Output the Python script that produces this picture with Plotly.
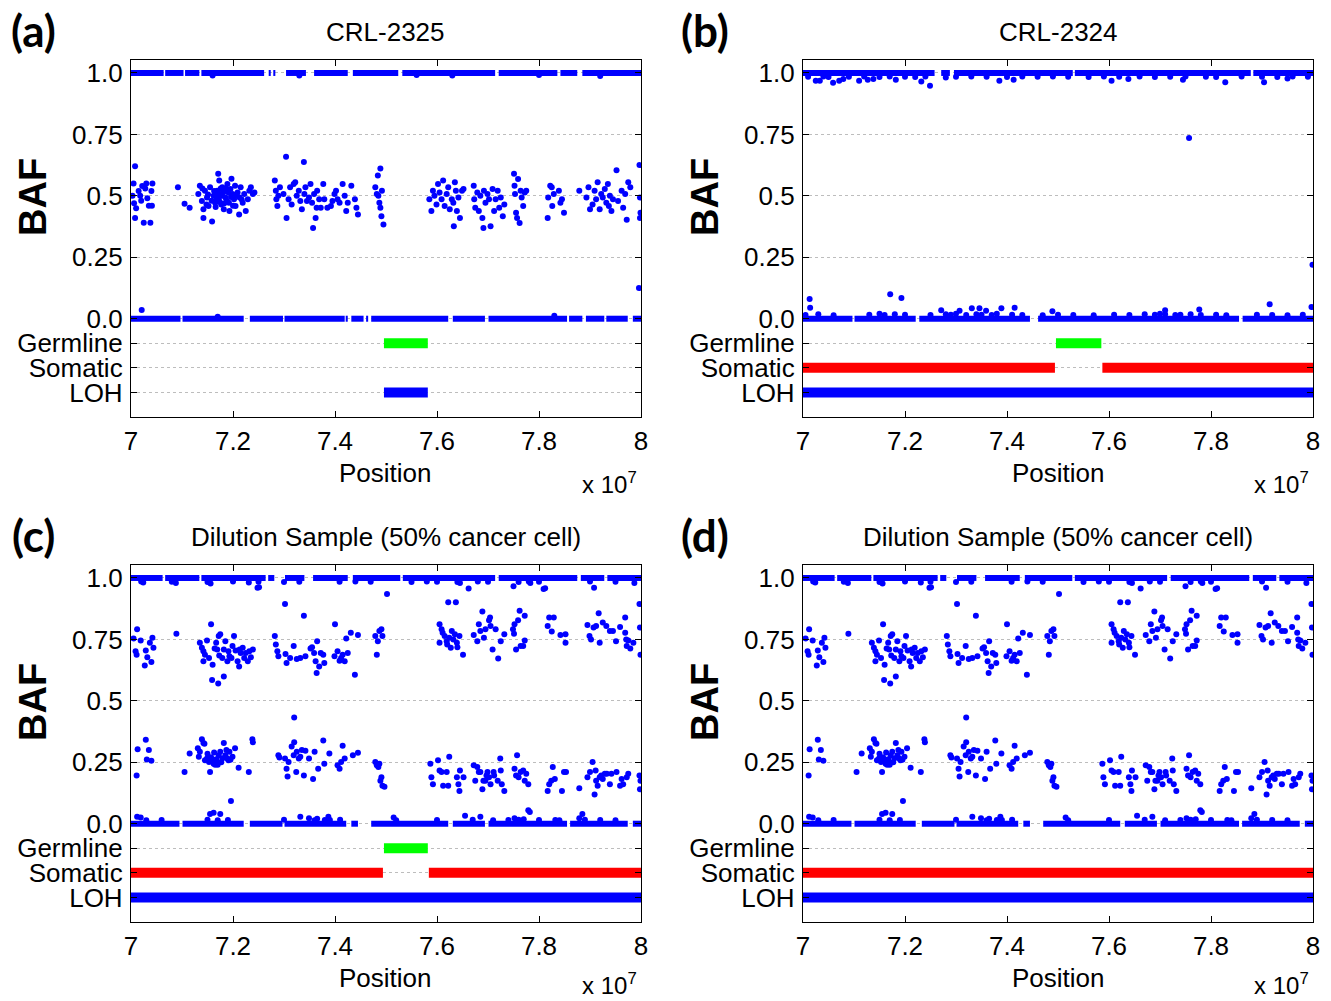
import plotly.graph_objects as go

W, H = 1331, 1001
BLUE = "rgb(0,0,255)"
GREEN = "rgb(0,255,0)"
RED = "rgb(255,0,0)"

# ---------------- axis ticks ----------------
X_TICKS = [7.0, 7.2, 7.4, 7.6, 7.8, 8.0]
X_TICKTEXT = ["7", "7.2", "7.4", "7.6", "7.8", "8"]
Y_TICKS = [-0.3, -0.2, -0.1, 0.0, 0.25, 0.5, 0.75, 1.0]
Y_TICKTEXT = ["LOH", "Somatic", "Germline", "0.0", "0.25", "0.5", "0.75", "1.0"]
ROW_GERMLINE, ROW_SOMATIC, ROW_LOH = -0.1, -0.2, -0.3

PANEL_LABELS = ["(a)", "(b)", "(c)", "(d)"]
PANEL_TITLES = ["CRL-2325", "CRL-2324",
                "Dilution Sample (50% cancer cell)", "Dilution Sample (50% cancer cell)"]

# ---------------- panel (a) CRL-2325 ----------------
A_TOP_SEG = [(7.0, 7.064), (7.067, 7.103), (7.106, 7.134), (7.138, 7.261), (7.270, 7.274),
             (7.279, 7.283), (7.304, 7.343), (7.359, 7.425), (7.435, 7.524), (7.532, 7.714),
             (7.721, 7.836), (7.842, 7.875), (7.885, 8.0)]
A_BOT_SEG = [(7.0, 7.097), (7.101, 7.221), (7.233, 7.298), (7.301, 7.419), (7.421, 7.425),
             (7.432, 7.456), (7.461, 7.465), (7.471, 7.622), (7.631, 7.694), (7.701, 7.855),
             (7.859, 7.885), (7.892, 7.928), (7.932, 7.974), (7.984, 8.0)]
A_HET_X = [7.003, 7.005, 7.008, 7.006, 7.010, 7.008, 7.015, 7.018, 7.020, 7.025, 7.028, 7.030,
           7.032, 7.035, 7.038, 7.040, 7.042, 7.041, 7.022, 7.092,
           7.105, 7.115, 7.132, 7.135, 7.139, 7.142, 7.142, 7.145, 7.149, 7.152, 7.155, 7.159,
           7.162, 7.165, 7.169, 7.171, 7.172, 7.173, 7.175, 7.177, 7.179, 7.182, 7.185, 7.189,
           7.191, 7.192, 7.193, 7.195, 7.199, 7.202, 7.204, 7.205, 7.209, 7.212, 7.213, 7.215,
           7.219, 7.222, 7.225, 7.229, 7.232, 7.235, 7.239, 7.242,
           7.158, 7.163, 7.166, 7.168, 7.174, 7.176, 7.178, 7.181, 7.183, 7.186, 7.188, 7.196,
           7.200, 7.207, 7.217, 7.148, 7.151, 7.140, 7.170, 7.197,
           7.282, 7.284, 7.285, 7.287, 7.289, 7.292, 7.299, 7.304, 7.305, 7.309, 7.312, 7.315,
           7.319, 7.322, 7.325, 7.329, 7.332, 7.335, 7.339, 7.340, 7.342, 7.345, 7.349, 7.352,
           7.355, 7.357, 7.359, 7.362, 7.364, 7.365, 7.369, 7.372, 7.377, 7.379, 7.385, 7.392,
           7.395, 7.399, 7.402, 7.405, 7.409, 7.415, 7.419, 7.422, 7.425, 7.432, 7.439, 7.442,
           7.445,
           7.479, 7.482, 7.484, 7.485, 7.487, 7.489, 7.489, 7.491, 7.492, 7.495,
           7.585, 7.589, 7.592, 7.595, 7.599, 7.602, 7.605, 7.609, 7.612, 7.615, 7.619, 7.622,
           7.625, 7.629, 7.632, 7.633, 7.635, 7.637, 7.639, 7.642, 7.645, 7.649, 7.652,
           7.672, 7.673, 7.675, 7.679, 7.682, 7.685, 7.689, 7.691, 7.692, 7.695, 7.699, 7.702,
           7.705, 7.709, 7.712, 7.715, 7.719, 7.722, 7.725, 7.729, 7.732,
           7.751, 7.752, 7.753, 7.755, 7.757, 7.759, 7.762, 7.764, 7.766, 7.769, 7.772, 7.775,
           7.817, 7.818, 7.822, 7.825, 7.826, 7.829, 7.839, 7.842, 7.845, 7.849, 7.879,
           7.893, 7.897, 7.900, 7.905, 7.909, 7.912, 7.915, 7.919, 7.922, 7.925, 7.929, 7.932,
           7.935, 7.937, 7.939, 7.942, 7.945, 7.952, 7.955, 7.962, 7.965, 7.969, 7.972, 7.975,
           7.979, 7.997, 7.998, 7.999, 7.998]
A_HET_Y = [0.50, 0.55, 0.62, 0.47, 0.45, 0.41, 0.52, 0.50, 0.48, 0.39, 0.53, 0.55,
           0.49, 0.46, 0.39, 0.52, 0.55, 0.46, 0.54, 0.535,
           0.468, 0.452, 0.507, 0.541, 0.479, 0.445, 0.410, 0.521, 0.493, 0.459, 0.535, 0.396,
           0.500, 0.472, 0.521, 0.590, 0.486, 0.562, 0.507, 0.465, 0.535, 0.445, 0.493, 0.548,
           0.514, 0.472, 0.438, 0.528, 0.507, 0.486, 0.541, 0.459, 0.514, 0.424, 0.493, 0.535,
           0.472, 0.507, 0.438, 0.486, 0.521, 0.535, 0.507, 0.514,
           0.480, 0.520, 0.455, 0.490, 0.475, 0.530, 0.500, 0.515, 0.470, 0.530, 0.480, 0.495,
           0.460, 0.500, 0.485, 0.465, 0.505, 0.530, 0.510, 0.570,
           0.562, 0.521, 0.486, 0.459, 0.500, 0.535, 0.507, 0.659, 0.410, 0.486, 0.535, 0.465,
           0.548, 0.555, 0.500, 0.521, 0.479, 0.445, 0.638, 0.507, 0.535, 0.479, 0.493, 0.548,
           0.472, 0.369, 0.507, 0.410, 0.452, 0.521, 0.486, 0.452, 0.548, 0.486, 0.452, 0.459,
           0.479, 0.507, 0.521, 0.486, 0.472, 0.548, 0.500, 0.438, 0.472, 0.541, 0.486, 0.452,
           0.424,
           0.535, 0.507, 0.583, 0.500, 0.472, 0.611, 0.452, 0.417, 0.521, 0.383,
           0.486, 0.438, 0.521, 0.500, 0.465, 0.548, 0.514, 0.486, 0.562, 0.459, 0.507, 0.535,
           0.445, 0.486, 0.472, 0.376, 0.555, 0.521, 0.438, 0.493, 0.410, 0.521, 0.528,
           0.541, 0.486, 0.452, 0.514, 0.438, 0.500, 0.410, 0.369, 0.521, 0.472, 0.507, 0.486,
           0.376, 0.528, 0.438, 0.486, 0.521, 0.452, 0.493, 0.417, 0.465,
           0.590, 0.541, 0.507, 0.431, 0.410, 0.569, 0.389, 0.521, 0.493, 0.459, 0.514, 0.521,
           0.410, 0.493, 0.541, 0.535, 0.459, 0.507, 0.521, 0.472, 0.486, 0.431, 0.521,
           0.493, 0.535, 0.445, 0.465, 0.521, 0.486, 0.555, 0.445, 0.507, 0.493, 0.528, 0.472,
           0.548, 0.459, 0.500, 0.438, 0.486, 0.604, 0.479, 0.521, 0.452, 0.507, 0.403, 0.555,
           0.535, 0.625, 0.493, 0.431, 0.410]
A_OUT_X = [7.021, 7.996, 7.830, 7.170, 7.160, 7.330, 7.560, 7.630, 7.800, 7.920]
A_OUT_Y = [0.035, 0.125, 0.012, 0.008, 0.990, 0.990, 0.992, 0.990, 0.992, 0.988]
A_GERM_SEG = [(7.496, 7.582)]
A_SOM_SEG = []
A_LOH_SEG = [(7.496, 7.582)]

# ---------------- panel (b) CRL-2324 ----------------
B_TOP_SEG = [(7.0, 7.258), (7.271, 7.288), (7.296, 7.529), (7.533, 7.878), (7.883, 8.0)]
B_BOT_SEG = [(7.0, 7.097), (7.101, 7.221), (7.228, 7.445), (7.461, 7.855), (7.862, 8.0)]
B_OUT_X = [7.025, 7.033, 7.059, 7.071, 7.079, 7.110, 7.127, 7.138, 7.182, 7.232, 7.249, 7.280,
           7.385, 7.413, 7.605, 7.638, 7.745, 7.828, 7.904, 7.950,
           7.757, 7.999,
           7.013, 7.014, 7.171, 7.193, 7.271, 7.307, 7.331, 7.346, 7.359, 7.389, 7.415, 7.489,
           7.710, 7.777, 7.915, 7.997,
           7.010, 7.040, 7.050, 7.090, 7.120, 7.150, 7.170, 7.200, 7.220, 7.240, 7.300, 7.330,
           7.360, 7.400, 7.430, 7.460, 7.490, 7.520, 7.560, 7.590, 7.620, 7.660, 7.690, 7.720,
           7.750, 7.790, 7.810, 7.860, 7.900, 7.930, 7.960, 7.990,
           7.005, 7.030, 7.060, 7.130, 7.150, 7.160, 7.180, 7.200, 7.250, 7.280, 7.290, 7.300,
           7.320, 7.340, 7.350, 7.370, 7.380, 7.410, 7.430, 7.470, 7.500, 7.530, 7.570, 7.610,
           7.640, 7.670, 7.690, 7.700, 7.710, 7.730, 7.740, 7.760, 7.780, 7.810, 7.830, 7.890,
           7.920, 7.950, 7.980]
B_OUT_Y = [0.968, 0.968, 0.960, 0.968, 0.975, 0.968, 0.972, 0.975, 0.972, 0.965, 0.948, 0.982,
           0.968, 0.972, 0.968, 0.975, 0.972, 0.962, 0.962, 0.978,
           0.735, 0.220,
           0.080, 0.045, 0.100, 0.084, 0.034, 0.032, 0.043, 0.043, 0.032, 0.043, 0.045, 0.030,
           0.034, 0.037, 0.059, 0.048,
           0.985, 0.986, 0.984, 0.985, 0.986, 0.984, 0.986, 0.985, 0.984, 0.986, 0.985, 0.986,
           0.985, 0.984, 0.986, 0.985, 0.986, 0.985, 0.984, 0.986, 0.985, 0.986, 0.984, 0.985,
           0.986, 0.985, 0.984, 0.986, 0.985, 0.984, 0.986, 0.985,
           0.015, 0.018, 0.014, 0.016, 0.020, 0.015, 0.018, 0.016, 0.015, 0.018, 0.016, 0.020,
           0.015, 0.018, 0.016, 0.015, 0.020, 0.016, 0.015, 0.014, 0.016, 0.015, 0.014, 0.016,
           0.015, 0.018, 0.016, 0.020, 0.018, 0.015, 0.016, 0.018, 0.015, 0.016, 0.014, 0.016,
           0.015, 0.014, 0.016]
B_GERM_SEG = [(7.496, 7.585)]
B_SOM_SEG = [(7.0, 7.494), (7.587, 8.0)]
B_LOH_SEG = [(7.0, 8.0)]

# ---------------- panels (c) and (d) dilution sample ----------------
CD_TOP_SEG = [(7.0, 7.062), (7.067, 7.134), (7.138, 7.264), (7.269, 7.281), (7.302, 7.340),
              (7.357, 7.425), (7.435, 7.528), (7.533, 7.714), (7.721, 7.875), (7.882, 7.928),
              (7.934, 8.0)]
CD_BOT_SEG = [(7.0, 7.095), (7.101, 7.221), (7.233, 7.297), (7.301, 7.422), (7.432, 7.445),
              (7.471, 7.622), (7.631, 7.694), (7.701, 7.855), (7.861, 7.974), (7.984, 8.0)]
CD_UP_X = [7.005, 7.012, 7.009, 7.011, 7.019, 7.027, 7.029, 7.032, 7.037, 7.040, 7.042, 7.044,
           7.089,
           7.135, 7.139, 7.142, 7.142, 7.145, 7.149, 7.153, 7.157, 7.159, 7.160, 7.164, 7.167,
           7.169, 7.171, 7.172, 7.173, 7.175, 7.179, 7.182, 7.182, 7.185, 7.189, 7.191, 7.193,
           7.197, 7.199, 7.202, 7.205, 7.209, 7.212, 7.213, 7.215, 7.219, 7.222, 7.225, 7.229,
           7.232, 7.235, 7.239,
           7.282, 7.284, 7.287, 7.289, 7.302, 7.303, 7.305, 7.312, 7.319, 7.325, 7.332, 7.339,
           7.342, 7.352, 7.355, 7.359, 7.362, 7.364, 7.365, 7.369, 7.372, 7.377, 7.379, 7.399,
           7.400, 7.405, 7.409, 7.412, 7.415, 7.419, 7.422, 7.425, 7.431, 7.439, 7.445,
           7.479, 7.482, 7.484, 7.487, 7.491, 7.493,
           7.605, 7.605, 7.609, 7.611, 7.615, 7.619, 7.620, 7.622, 7.624, 7.627, 7.629, 7.632,
           7.635, 7.637, 7.639, 7.640, 7.644, 7.651,
           7.672, 7.679, 7.682, 7.685, 7.689, 7.692, 7.695, 7.702, 7.704, 7.705, 7.709, 7.715,
           7.720, 7.725, 7.732,
           7.749, 7.751, 7.752, 7.755, 7.759, 7.762, 7.764, 7.769, 7.772, 7.772,
           7.817, 7.820, 7.825, 7.829, 7.842, 7.852, 7.852,
           7.895, 7.899, 7.902, 7.907, 7.912, 7.917, 7.919, 7.925, 7.932, 7.939, 7.945, 7.951,
           7.959, 7.969, 7.969, 7.971, 7.972, 7.975, 7.979, 7.985, 7.997, 7.998, 7.999]
CD_UP_Y = [0.754, 0.791, 0.702, 0.688, 0.746, 0.644, 0.705, 0.677, 0.736, 0.658, 0.757, 0.716,
           0.773,
           0.736, 0.716, 0.702, 0.661, 0.688, 0.746, 0.674, 0.812, 0.585, 0.647, 0.713, 0.736,
           0.709, 0.571, 0.764, 0.685, 0.771, 0.674, 0.599, 0.709, 0.743, 0.661, 0.702, 0.681,
           0.674, 0.723, 0.764, 0.705, 0.661, 0.640, 0.709, 0.695, 0.716, 0.674, 0.695, 0.661,
           0.702, 0.677, 0.709,
           0.764, 0.729, 0.702, 0.681, 0.894, 0.691, 0.654, 0.674, 0.723, 0.670, 0.674, 0.846,
           0.681, 0.713, 0.718, 0.695, 0.661, 0.613, 0.743, 0.640, 0.695, 0.688, 0.654, 0.681,
           0.812, 0.702, 0.663, 0.674, 0.688, 0.661, 0.754, 0.695, 0.777, 0.606, 0.768,
           0.764, 0.688, 0.743, 0.784, 0.791, 0.764,
           0.812, 0.736, 0.791, 0.777, 0.764, 0.743, 0.729, 0.901, 0.757, 0.716, 0.784, 0.750,
           0.771, 0.901, 0.736, 0.718, 0.764, 0.688,
           0.768, 0.743, 0.812, 0.784, 0.864, 0.757, 0.791, 0.828, 0.839, 0.805, 0.709, 0.791,
           0.672, 0.743, 0.771,
           0.791, 0.773, 0.812, 0.709, 0.828, 0.867, 0.723, 0.723, 0.846, 0.746,
           0.805, 0.839, 0.782, 0.839, 0.768, 0.736, 0.771,
           0.809, 0.764, 0.750, 0.798, 0.805, 0.856, 0.736, 0.819, 0.805, 0.784, 0.784, 0.743,
           0.801, 0.839, 0.777, 0.750, 0.723, 0.746, 0.713, 0.736, 0.894, 0.798, 0.688]
CD_LO_X = [7.011, 7.013, 7.029, 7.031, 7.035, 7.040,
           7.105, 7.115, 7.131, 7.133, 7.135, 7.139, 7.142, 7.144, 7.145, 7.149, 7.153, 7.155,
           7.159, 7.162, 7.165, 7.169, 7.172, 7.175, 7.179, 7.182, 7.185, 7.189, 7.191, 7.193,
           7.196, 7.199, 7.204, 7.211, 7.231, 7.239, 7.238,
           7.150, 7.157, 7.163, 7.167, 7.170, 7.177, 7.187, 7.195,
           7.289, 7.291, 7.302, 7.305, 7.307, 7.309, 7.315, 7.319, 7.320, 7.320, 7.324, 7.325,
           7.329, 7.332, 7.335, 7.339, 7.342, 7.349, 7.357, 7.360, 7.367, 7.377, 7.379, 7.389,
           7.405, 7.409, 7.412, 7.415, 7.419, 7.435, 7.445,
           7.479, 7.482, 7.485, 7.487, 7.489, 7.491, 7.493, 7.497,
           7.587, 7.589, 7.592, 7.602, 7.605, 7.609, 7.612, 7.619, 7.622, 7.624, 7.639, 7.642,
           7.644, 7.645, 7.652,
           7.672, 7.675, 7.679, 7.682, 7.685, 7.689, 7.691, 7.695, 7.697, 7.699, 7.702, 7.705,
           7.711, 7.712, 7.719, 7.724, 7.725, 7.727, 7.732,
           7.752, 7.755, 7.757, 7.760, 7.764, 7.769, 7.772, 7.775, 7.779,
           7.817, 7.820, 7.824, 7.827, 7.831, 7.845, 7.849, 7.853, 7.879,
           7.895, 7.900, 7.905, 7.909, 7.911, 7.912, 7.915, 7.919, 7.922, 7.925, 7.929, 7.933,
           7.939, 7.942, 7.952, 7.959, 7.962, 7.965, 7.972, 7.975, 7.997, 7.998, 7.999]
CD_LO_Y = [0.196, 0.303, 0.342, 0.261, 0.300, 0.256,
           0.210, 0.286, 0.307, 0.272, 0.293, 0.344, 0.328, 0.325, 0.258, 0.265, 0.251, 0.210,
           0.258, 0.244, 0.240, 0.251, 0.279, 0.293, 0.265, 0.328, 0.279, 0.265, 0.258, 0.293,
           0.092, 0.272, 0.307, 0.228, 0.210, 0.331, 0.344,
           0.285, 0.270, 0.290, 0.262, 0.240, 0.250, 0.300, 0.260,
           0.279, 0.269, 0.265, 0.224, 0.192, 0.251, 0.314, 0.279, 0.432, 0.331, 0.210, 0.293,
           0.265, 0.272, 0.300, 0.196, 0.297, 0.265, 0.182, 0.293, 0.224, 0.339, 0.244, 0.286,
           0.238, 0.224, 0.251, 0.317, 0.265, 0.279, 0.289,
           0.251, 0.238, 0.231, 0.244, 0.175, 0.189, 0.154, 0.150,
           0.244, 0.189, 0.161, 0.258, 0.217, 0.210, 0.154, 0.210, 0.154, 0.272, 0.189, 0.161,
           0.133, 0.217, 0.189,
           0.238, 0.175, 0.231, 0.210, 0.210, 0.140, 0.175, 0.175, 0.196, 0.210, 0.189, 0.161,
           0.210, 0.196, 0.175, 0.265, 0.217, 0.161, 0.133,
           0.224, 0.196, 0.279, 0.189, 0.210, 0.217, 0.175, 0.203, 0.161,
           0.133, 0.161, 0.175, 0.231, 0.182, 0.133, 0.210, 0.210, 0.144,
           0.189, 0.210, 0.251, 0.119, 0.217, 0.175, 0.154, 0.189, 0.196, 0.182, 0.203, 0.203,
           0.161, 0.203, 0.210, 0.154, 0.182, 0.161, 0.189, 0.203, 0.196, 0.140, 0.175]
CD_OUT_X = [7.012, 7.019, 7.155, 7.162, 7.175, 7.332, 7.349, 7.365, 7.387, 7.390, 7.515, 7.655,
            7.685, 7.752, 7.779, 7.782, 7.832, 7.885, 7.879,
            7.024, 7.088, 7.156, 7.231, 7.248, 7.251, 7.330, 7.409, 7.502, 7.645, 7.662, 7.750,
            7.783, 7.809, 7.812, 7.908, 7.987,
            7.030, 7.060, 7.150, 7.170, 7.190, 7.300, 7.360, 7.380, 7.410, 7.520, 7.600, 7.670,
            7.710, 7.740, 7.760, 7.770, 7.800, 7.840, 7.890, 7.920, 7.950,
            7.020, 7.080, 7.150, 7.200, 7.250, 7.300, 7.440, 7.470, 7.550, 7.580, 7.600, 7.640,
            7.680, 7.700, 7.760, 7.780, 7.800, 7.900, 7.950]
CD_OUT_Y = [0.028, 0.025, 0.040, 0.045, 0.040, 0.028, 0.022, 0.020, 0.028, 0.015, 0.025, 0.032,
            0.028, 0.022, 0.055, 0.048, 0.015, 0.040, 0.022,
            0.982, 0.980, 0.978, 0.982, 0.960, 0.962, 0.985, 0.985, 0.935, 0.980, 0.957, 0.966,
            0.980, 0.955, 0.958, 0.960, 0.980,
            0.014, 0.015, 0.016, 0.014, 0.015, 0.016, 0.014, 0.015, 0.016, 0.014, 0.015, 0.016,
            0.014, 0.015, 0.016, 0.018, 0.015, 0.014, 0.016, 0.015, 0.014,
            0.986, 0.985, 0.984, 0.986, 0.985, 0.984, 0.986, 0.985, 0.984, 0.986, 0.985, 0.984,
            0.986, 0.985, 0.984, 0.986, 0.985, 0.986, 0.985]
C_GERM_SEG = [(7.496, 7.582)]
C_SOM_SEG = [(7.0, 7.494), (7.584, 8.0)]
C_LOH_SEG = [(7.0, 8.0)]
D_GERM_SEG = []
D_SOM_SEG = [(7.0, 8.0)]
D_LOH_SEG = [(7.0, 8.0)]

# ---------------- layout geometry (pixels) ----------------
PLOT_BOXES = [(131, 641, 60, 417), (803, 1313, 60, 417),
              (131, 641, 565, 922), (803, 1313, 565, 922)]
EXP_OFFSETS = [66, 66, 62, 62]
FONT = "Liberation Sans, Arial, sans-serif"


def seg_xy(segs, yval):
    xs, ys = [], []
    for s, e in segs:
        xs += [s, e, None]
        ys += [yval, yval, None]
    return xs, ys


def px(x):
    return x / W


def py(y):
    return 1 - y / H


panels = [
    dict(top=A_TOP_SEG, bot=A_BOT_SEG, pts=[(A_HET_X, A_HET_Y), (A_OUT_X, A_OUT_Y)],
         germ=A_GERM_SEG, som=A_SOM_SEG, loh=A_LOH_SEG),
    dict(top=B_TOP_SEG, bot=B_BOT_SEG, pts=[(B_OUT_X, B_OUT_Y)],
         germ=B_GERM_SEG, som=B_SOM_SEG, loh=B_LOH_SEG),
    dict(top=CD_TOP_SEG, bot=CD_BOT_SEG, pts=[(CD_UP_X, CD_UP_Y), (CD_LO_X, CD_LO_Y), (CD_OUT_X, CD_OUT_Y)],
         germ=C_GERM_SEG, som=C_SOM_SEG, loh=C_LOH_SEG),
    dict(top=CD_TOP_SEG, bot=CD_BOT_SEG, pts=[(CD_UP_X, CD_UP_Y), (CD_LO_X, CD_LO_Y), (CD_OUT_X, CD_OUT_Y)],
         germ=D_GERM_SEG, som=D_SOM_SEG, loh=D_LOH_SEG),
]

fig = go.Figure()
annotations = []
for i, p in enumerate(panels):
    n = "" if i == 0 else str(i + 1)
    xa, ya = "x" + n, "y" + n
    # homozygous bands
    for segs, yv in [(p["top"], 1.0), (p["bot"], 0.0)]:
        xs, ys = seg_xy(segs, yv)
        fig.add_trace(go.Scatter(x=xs, y=ys, mode="lines", xaxis=xa, yaxis=ya,
                                 line=dict(color=BLUE, width=6), hoverinfo="skip"))
    for xs, ys in p["pts"]:
        fig.add_trace(go.Scatter(x=xs, y=ys, mode="markers", xaxis=xa, yaxis=ya,
                                 marker=dict(color=BLUE, size=6, line=dict(width=0))))
    for segs, yv, col in [(p["germ"], ROW_GERMLINE, GREEN), (p["som"], ROW_SOMATIC, RED),
                          (p["loh"], ROW_LOH, BLUE)]:
        if segs:
            xs, ys = seg_xy(segs, yv)
            fig.add_trace(go.Scatter(x=xs, y=ys, mode="lines", xaxis=xa, yaxis=ya,
                                     line=dict(color=col, width=10), hoverinfo="skip"))

    x0, x1, y0, y1 = PLOT_BOXES[i]
    axis_common = dict(showline=True, linecolor="black", linewidth=1.3, mirror="ticks",
                       ticks="inside", ticklen=6, tickcolor="black", tickwidth=1,
                       automargin=False,
                       tickfont=dict(family=FONT, size=26, color="black"), zeroline=False)
    fig.update_layout({
        "xaxis" + n: dict(domain=[px(x0), px(x1)], anchor=ya, range=[7.0, 8.0],
                          tickvals=X_TICKS, ticktext=X_TICKTEXT, showgrid=False,
                          ticklabelstandoff=1, **axis_common),
        "yaxis" + n: dict(domain=[py(y1), py(y0)], anchor=xa, range=[-0.4, 1.0528],
                          tickvals=Y_TICKS, ticktext=Y_TICKTEXT, showgrid=True,
                          gridcolor="#bdbdbd", griddash="dot", gridwidth=1,
                          ticklabelstandoff=2, **axis_common),
    })
    cx = (x0 + x1) / 2
    annotations += [
        dict(text="<b>" + PANEL_LABELS[i] + "</b>", x=px(x0 - 98), y=py(y0 - 30),
             font=dict(family="Lato, sans-serif", size=44, color="black")),
        dict(text=PANEL_TITLES[i], x=px(cx), y=py(y0 - 28),
             font=dict(family=FONT, size=26, color="black")),
        dict(text="<b>BAF</b>", x=px(x0 - 98), y=py(y0 + 137), textangle=-90,
             font=dict(family=FONT, size=38, color="black")),
        dict(text="Position", x=px(cx), y=py(y1 + 56),
             font=dict(family=FONT, size=26, color="black")),
        dict(text="x 10<sup>7</sup>", x=px(x1 - 32), y=py(y1 + EXP_OFFSETS[i]),
             font=dict(family=FONT, size=24, color="black")),
    ]

for a in annotations:
    a.update(xref="paper", yref="paper", showarrow=False, xanchor="center", yanchor="middle")

fig.update_layout(template="none", width=W, height=H, margin=dict(l=0, r=0, t=0, b=0, pad=0),
                  plot_bgcolor="white", paper_bgcolor="white", showlegend=False,
                  annotations=annotations)

fig.write_html("out.html", config={"displayModeBar": False},
               post_script="document.body.style.margin='0px';")
